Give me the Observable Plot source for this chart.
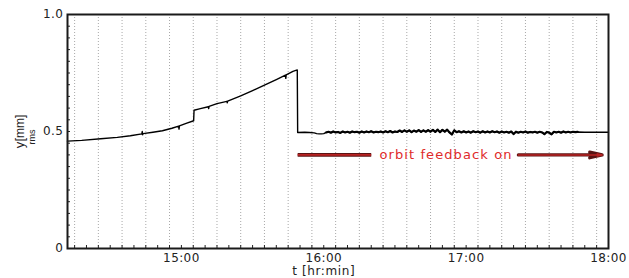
<!DOCTYPE html>
<html><head><meta charset="utf-8">
<script src="https://cdn.jsdelivr.net/npm/d3@7"></script>
<script src="https://cdn.jsdelivr.net/npm/@observablehq/plot@0.6"></script>
<style>
html,body{margin:0;padding:0;background:#fff;}
#chart svg{display:block;}
</style>
</head><body><div id="chart"></div>
<script>
// ---- data ----
// before orbit feedback: slow rise, step at ~15:05, fall at ~15:49
const riseTimes = ["14:12","14:18","14:26","14:33","14:38:30","14:43:20","14:43:30","14:43:40","14:43:50",
  "14:48","14:52","14:56","14:58:50","14:59:00","14:59:10","15:02","15:05:10","15:05:20","15:08",
  "15:11:20","15:11:30","15:11:40","15:15","15:19:10","15:19:20","15:19:30","15:25","15:30","15:35",
  "15:40","15:43:50","15:44:00","15:44:10","15:47","15:48:50"];
const riseValues = [0.459,0.462,0.469,0.475,0.482,0.490,0.500,0.486,0.491,
  0.497,0.503,0.514,0.523,0.510,0.524,0.535,0.546,0.591,0.598,
  0.606,0.598,0.607,0.619,0.629,0.623,0.630,0.652,0.675,0.698,
  0.722,0.741,0.727,0.742,0.757,0.763];

// with orbit feedback on: flat, noisy around 0.5
const fbTimes = ["15:49:00","15:52","15:54","15:56","15:57","15:58","15:59","16:00",
  "16:01","16:02","16:03","16:04","16:05","16:06","16:07","16:08","16:09","16:10","16:11","16:12","16:13","16:14","16:15",
  "16:16","16:17","16:18","16:19","16:20","16:21","16:22","16:23","16:24","16:25","16:26","16:27","16:28","16:29","16:30","16:31",
  "16:32","16:33","16:34","16:35","16:36","16:37","16:38","16:39","16:40","16:41","16:42","16:43","16:44",
  "16:45","16:46","16:47","16:48","16:49","16:50","16:51","16:52","16:53","16:54","16:55","16:56",
  "16:57","16:58","16:59","17:00","17:01","17:02","17:03","17:04","17:05","17:06","17:07","17:08","17:09","17:10","17:11","17:12","17:13","17:14","17:15","17:16","17:17","17:18","17:19","17:20",
  "17:21","17:22","17:23","17:24","17:25","17:26","17:27","17:28","17:29","17:30","17:31","17:32","17:33","17:34","17:35","17:36","17:37","17:38","17:39","17:40","17:41","17:42","17:43","17:44","17:45","17:46","17:47",
  "17:50","17:55","18:00"];
const fbValues = [0.496,0.497,0.496,0.494,0.491,0.490,0.490,0.491,
  0.496,0.499,0.495,0.500,0.496,0.498,0.494,0.500,0.496,0.499,0.495,0.500,0.497,0.499,0.495,
  0.500,0.496,0.500,0.497,0.501,0.496,0.499,0.497,0.500,0.496,0.501,0.497,0.502,0.496,0.500,0.498,
  0.504,0.498,0.505,0.499,0.505,0.497,0.504,0.499,0.506,0.498,0.505,0.499,0.506,
  0.499,0.507,0.498,0.508,0.497,0.507,0.499,0.508,0.496,0.487,0.505,0.497,
  0.501,0.496,0.501,0.496,0.500,0.495,0.501,0.497,0.500,0.495,0.501,0.496,0.500,0.496,0.501,0.497,0.500,0.495,0.500,0.496,0.499,0.495,0.500,0.489,
  0.499,0.495,0.499,0.496,0.500,0.495,0.498,0.496,0.499,0.495,0.499,0.496,0.489,0.498,0.495,0.488,0.499,0.496,0.499,0.495,0.500,0.496,0.499,0.496,0.499,0.497,0.498,
  0.497,0.497,0.497];
// the noisy stretch (drawn a little heavier, as in the picture)
const noisyFrom = "16:01", noisyTo = "17:47";

// annotation
const noteText = "orbit feedback on";
const noteTime = "16:51:30";
const noteValue = 0.4;
const barTimes = ["15:49", "16:20"];
const arrowTimes = ["17:22", "17:57:20"];

// axes
const xDomain = ["14:12", "18:00"];
const hourTicks = ["15:00","16:00","17:00","18:00"];
const yTicks = [0, 0.5, 1.0];
const yTickLabels = ["0", "0.5", "1.0"];
const xLabel = "t [hr:min]";
const xLabelTime = "16:00";

// ---- helpers ----
const parse = s => { const [h, m, sec = 0] = s.split(":").map(Number); return new Date(2000, 0, 1, h, m, sec); };
if (riseTimes.length !== riseValues.length || fbTimes.length !== fbValues.length) {
  document.body.insertAdjacentHTML("beforeend", `<p>length mismatch ${riseTimes.length}/${riseValues.length} ${fbTimes.length}/${fbValues.length}</p>`);
}
const series = riseTimes.map((t, i) => ({t: parse(t), v: riseValues[i]}))
  .concat(fbTimes.map((t, i) => ({t: parse(t), v: fbValues[i]})));
const noisy = series.filter(d => d.t >= parse(noisyFrom) && d.t <= parse(noisyTo));

const minorX = d3.timeMinute.every(5).range(parse("14:15"), parse("18:00:01"));
const gridX = d3.timeMinute.every(5).range(parse("14:15"), parse("18:00")).filter(d => d.getMinutes() % 10 === 5);
const minorY = d3.range(0, 1.0001, 0.05);

const red = "#e02a2a";
const dark = "#5a1414";

const chart = Plot.plot({
  width: 629, height: 278,
  marginLeft: 67, marginRight: 21, marginTop: 14, marginBottom: 30,
  style: {fontFamily: "'DejaVu Sans', sans-serif", fontSize: "12px", color: "#222", background: "#fff", overflow: "visible"},
  x: {type: "time", domain: xDomain.map(parse)},
  y: {domain: [0, 1]},
  marks: [
    Plot.ruleX(gridX, {stroke: "#a8a8a8", strokeDasharray: "1,2", strokeWidth: 1}),
    Plot.axisX({ticks: minorX, tickSize: -3, tickFormat: () => "", label: null, stroke: "#222", strokeWidth: 1}),
    Plot.axisX({ticks: hourTicks.map(parse), tickSize: 0, tickPadding: 5, tickFormat: d3.timeFormat("%H:%M"), label: null, fontSize: 12}),
    Plot.axisY({ticks: minorY, tickSize: -3, tickFormat: () => "", label: null, stroke: "#222", strokeWidth: 1}),
    Plot.axisY({ticks: yTicks, tickSize: 0, tickPadding: 4, tickFormat: d => yTickLabels[yTicks.indexOf(d)], label: null, fontSize: 12}),
    Plot.line(series, {x: "t", y: "v", stroke: "#000", strokeWidth: 1.4}),
    Plot.line(noisy, {x: "t", y: "v", stroke: "#000", strokeWidth: 2.2}),
    // red bar left of text
    Plot.link([0], {x1: () => parse(barTimes[0]), x2: () => parse(barTimes[1]), y1: () => noteValue, y2: () => noteValue, stroke: dark, strokeWidth: 3.6}),
    Plot.link([0], {x1: () => parse(barTimes[0]), x2: () => parse(barTimes[1]), y1: () => noteValue, y2: () => noteValue, stroke: "#b82222", strokeWidth: 1.8}),
    Plot.arrow([0], {x1: () => parse(arrowTimes[0]), x2: () => parse(arrowTimes[1]), y1: () => noteValue, y2: () => noteValue, stroke: dark, strokeWidth: 3.2, headLength: 6, headAngle: 26}),
    Plot.arrow([0], {x1: () => parse(arrowTimes[0]), x2: () => parse(arrowTimes[1]), y1: () => noteValue, y2: () => noteValue, stroke: "#b82222", strokeWidth: 1.5, headLength: 5, headAngle: 24}),
    Plot.text([noteText], {x: () => parse(noteTime), y: () => noteValue, text: d => d, fill: red, fontSize: 13}),
    Plot.text([xLabel], {x: () => parse(xLabelTime), y: () => 0, dy: 23, text: d => d, fill: "#222", fontSize: 12}),
    Plot.frame({stroke: "#1a1a1a", strokeWidth: 2})
  ]
});
document.getElementById("chart").append(chart);

const svg = d3.select(chart);
svg.selectAll("text").each(function() {
  const t = this.textContent;
  if (t === noteText) this.style.letterSpacing = "1.1px";
  else if (/^\d\d:\d\d$/.test(t)) this.style.letterSpacing = "0.4px";
  else if (t === xLabel) this.style.letterSpacing = "0.6px";
  else if (yTickLabels.includes(t)) this.style.letterSpacing = "0.5px";
});

// y-axis label: y_rms [mm]
const g = svg.append("g").attr("transform", "translate(24,145) rotate(-90)")
  .attr("font-family", "'Liberation Sans', Arial, sans-serif").attr("fill", "#222");
g.append("text").attr("x", 0).attr("y", 0).attr("font-size", 13).text("y");
g.append("text").attr("x", 8).attr("y", 11).attr("font-size", 9).text("rms");
g.append("text").attr("x", 17).attr("y", 0).attr("font-size", 12).text("[mm]");
</script>
</body></html>
